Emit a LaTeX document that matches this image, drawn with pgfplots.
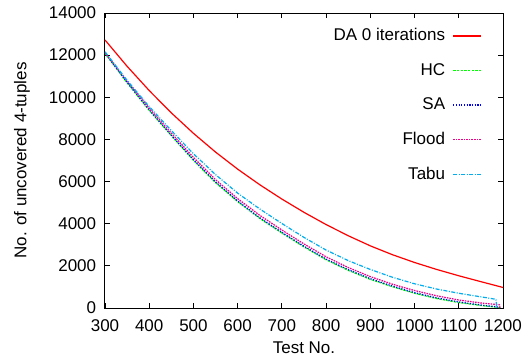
\documentclass[border=0pt]{standalone}
\usepackage{pgfplots}
\pgfplotsset{compat=1.18}
\usepackage{fontspec}
\setmainfont{Liberation Sans}
\begin{document}
\fontsize{17}{20}\selectfont
\begin{tikzpicture}
\useasboundingbox (-105pt,-54pt) rectangle (424pt,308pt);
\begin{axis}[
  scale only axis,
  width=398pt, height=295pt,
  at={(0,0)}, anchor=south west,
  xmin=300, xmax=1200, ymin=0, ymax=14000,
  xtick={300,400,...,1200},
  ytick={0,2000,...,14000},
  tick align=inside,
  major tick length=5pt,
  axis line style={line width=1pt},
  every tick/.style={black, line width=0.8pt},
  /pgf/number format/assume math mode=true,
  /pgf/number format/set thousands separator={},
  scaled ticks=false,
  ticklabel style={font=\fontsize{17}{20}\selectfont},
  xticklabel style={yshift=-6pt},
  yticklabel style={xshift=-3pt},
  xlabel={Test No.},
  ylabel={No. of uncovered 4-tuples},
  label style={font=\fontsize{17}{20}\selectfont},
  xlabel style={at={(axis description cs:0.5,-0.1356)}, anchor=center},
  ylabel style={at={(axis description cs:-0.2085,0.5)}, anchor=center},
  legend plot pos=right,
  legend cell align=right,
  legend style={draw=none, fill=none, at={(axis description cs:0.947,0.955)}, anchor=north east,
    font=\fontsize{17}{20}\selectfont, row sep=16pt, inner sep=0pt},
  legend image code/.code={\path[draw=none,fill=none] (0pt,0pt) -- (1pt,0pt); \draw[#1] (6pt,0pt) -- (34pt,0pt);},
  every axis plot/.append style={line width=1.2pt},
]
\addplot[red, solid] coordinates {
(300,12720) (350,11470) (400,10320) (450,9260) (500,8290) (550,7400) (600,6590)
(650,5850) (700,5170) (750,4540) (800,3960) (850,3430) (900,2950) (950,2530)
(1000,2160) (1050,1830) (1100,1530) (1150,1250) (1200,975)};
\addlegendentry{DA 0 iterations}
\addplot[green, dash pattern=on 2.5pt off 1.2pt] coordinates {
(300,12090) (350,10690) (400,9380) (450,8180) (500,7010) (550,5950) (600,5050)
(650,4250) (700,3560) (750,2900) (800,2290) (850,1790) (900,1360) (950,1010)
(1000,700) (1050,450) (1100,260) (1150,120) (1180,50) (1192,20) (1193,0)};
\addlegendentry{HC}
\addplot[blue, dash pattern=on 1.2pt off 1.5pt] coordinates {
(300,12100) (350,10710) (400,9400) (450,8200) (500,7040) (550,5980) (600,5080)
(650,4280) (700,3590) (750,2930) (800,2320) (850,1820) (900,1390) (950,1040)
(1000,730) (1050,480) (1100,290) (1150,140) (1180,70) (1192,40) (1193,0)};
\addlegendentry{SA}
\addplot[magenta, dash pattern=on 1.6pt off 1pt] coordinates {
(300,12120) (350,10780) (400,9480) (450,8300) (500,7150) (550,6090) (600,5190)
(650,4400) (700,3700) (750,3040) (800,2430) (850,1920) (900,1490) (950,1130)
(1000,830) (1050,580) (1100,380) (1150,240) (1180,180) (1192,150) (1193,0)};
\addlegendentry{Flood}
\addplot[cyan, dash pattern=on 4pt off 1.5pt on 1pt off 1.5pt] coordinates {
(300,12160) (350,10800) (400,9560) (450,8420) (500,7320) (550,6330) (600,5450)
(650,4700) (700,4010) (750,3350) (800,2750) (850,2250) (900,1830) (950,1460)
(1000,1150) (1050,900) (1100,700) (1150,530) (1184,413) (1186,0)};
\addlegendentry{Tabu}
\end{axis}
\end{tikzpicture}
\end{document}
